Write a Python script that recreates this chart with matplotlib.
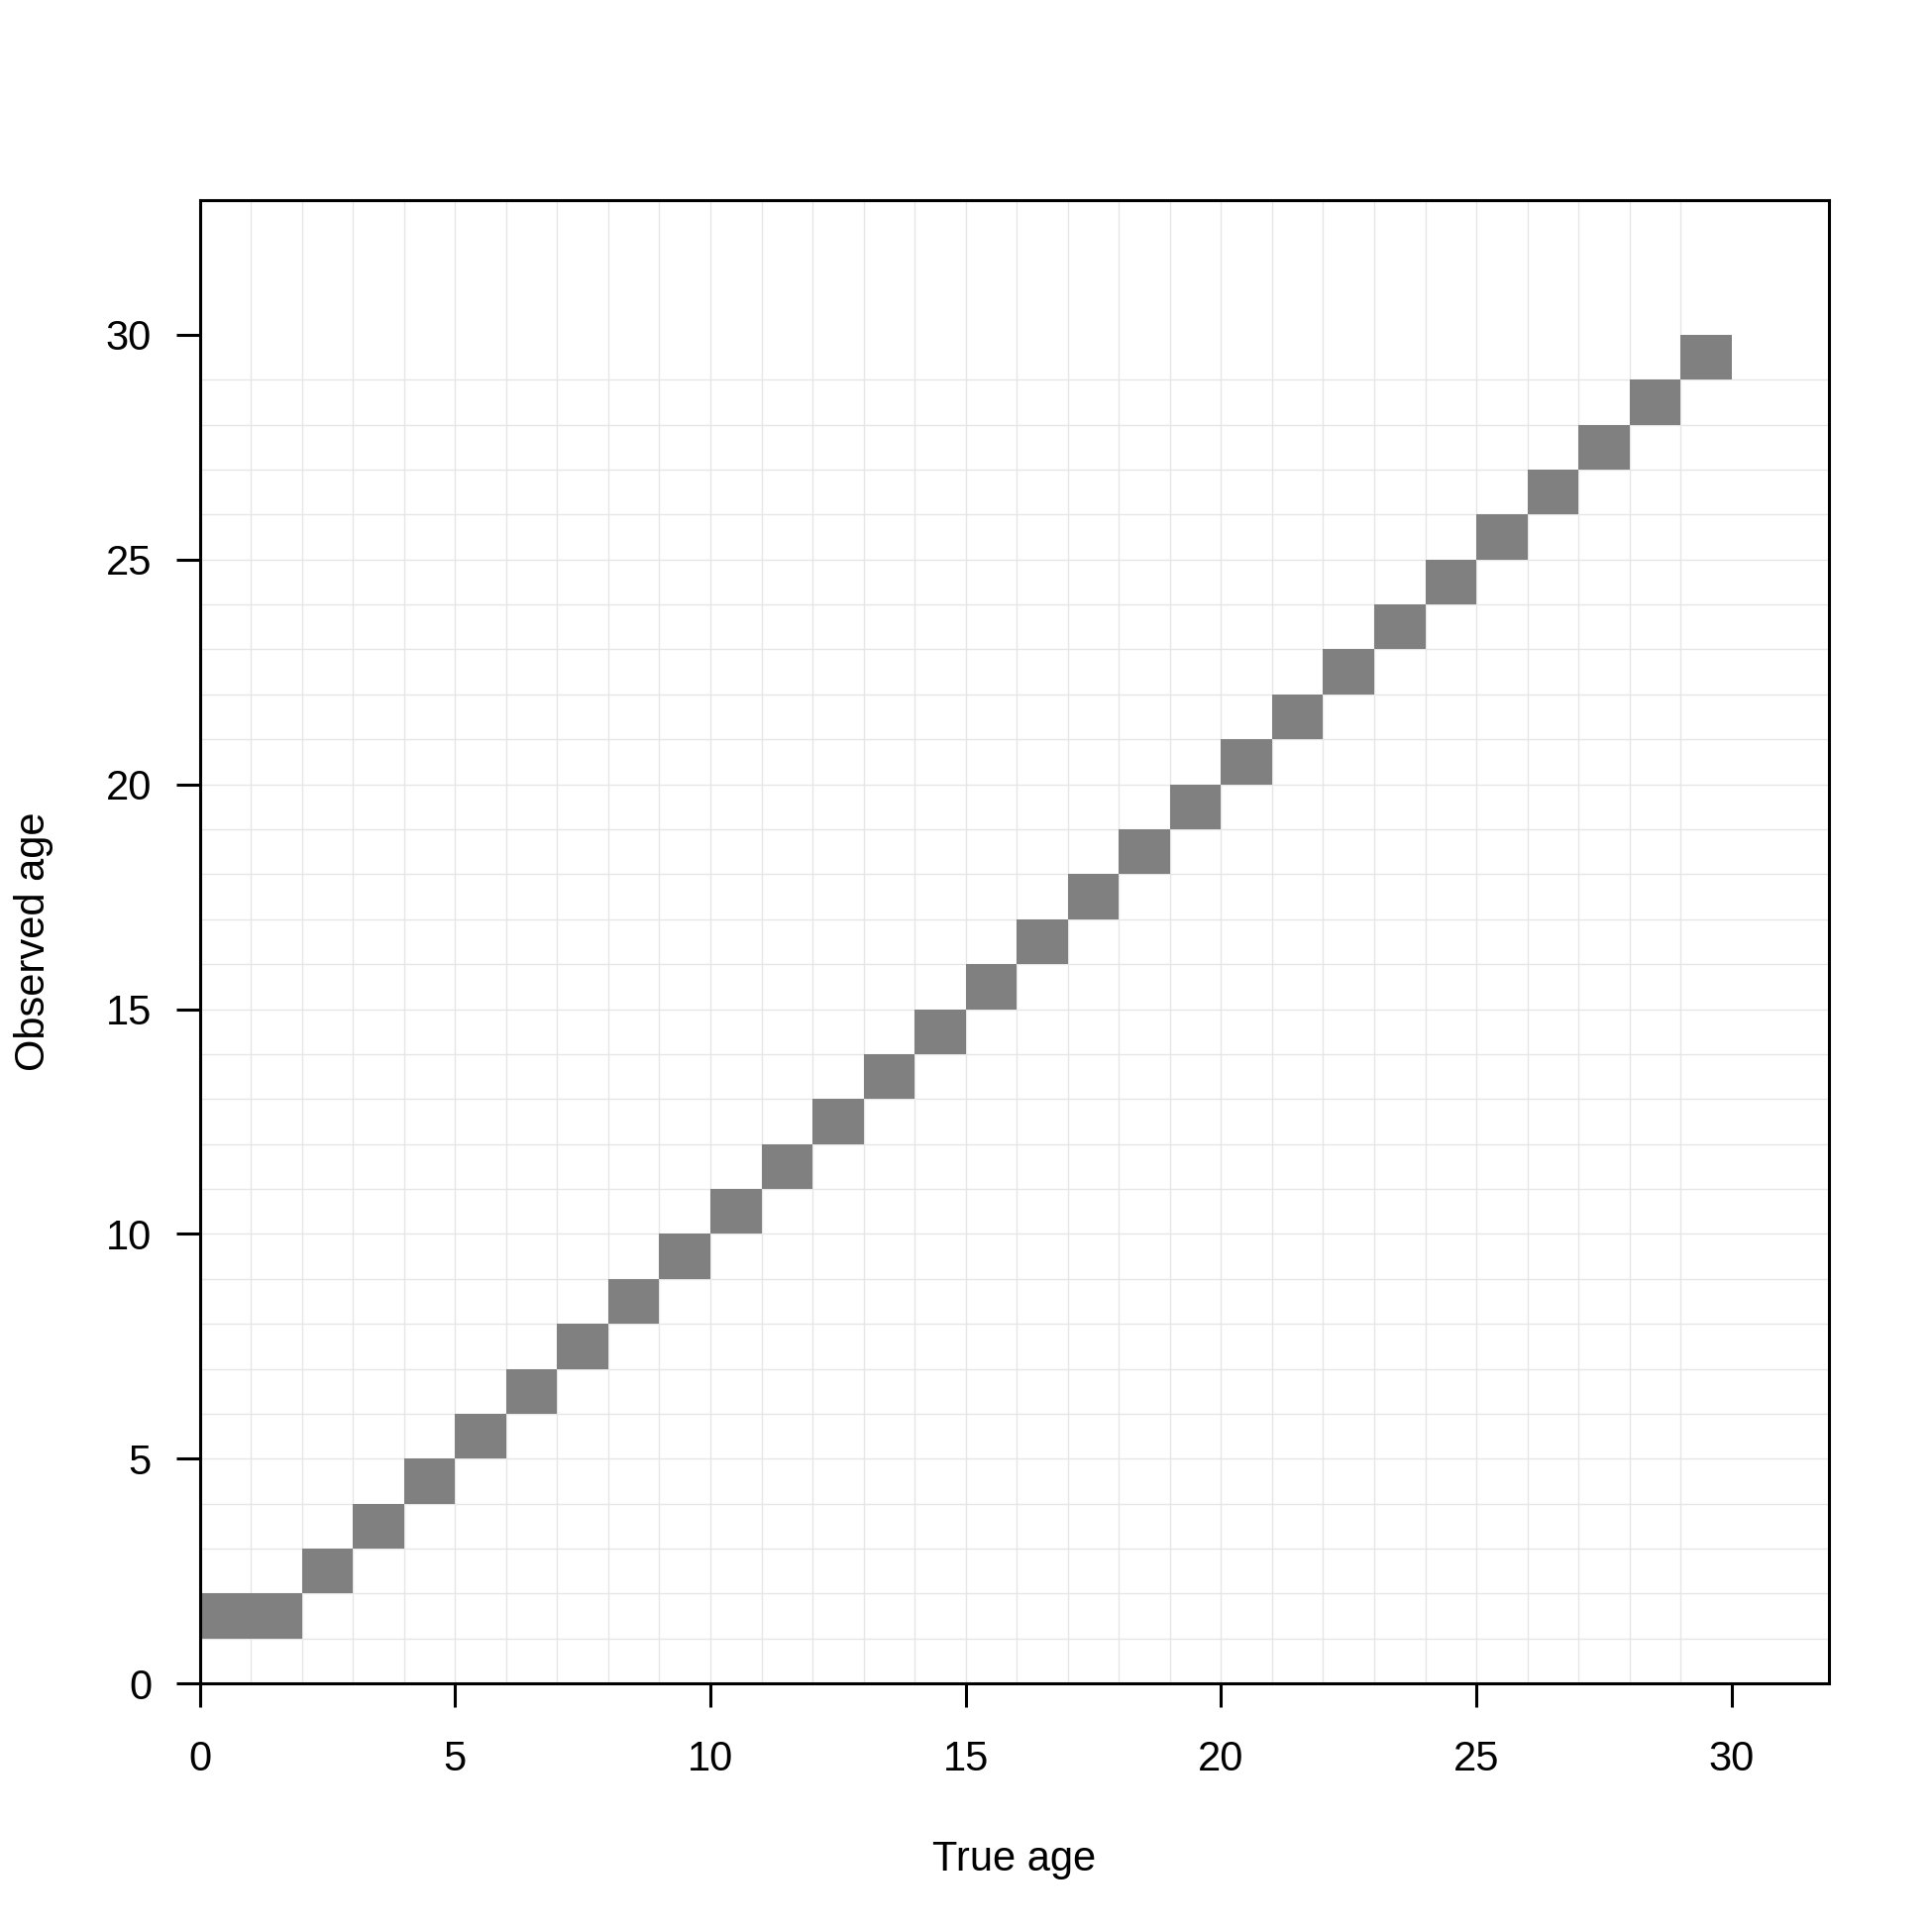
import matplotlib
matplotlib.use("Agg")
import matplotlib.pyplot as plt
import numpy as np

true_age = np.arange(0, 30)
observed_age = np.array([1, 1, 2, 3, 4, 5, 6, 7, 8, 9, 10, 11, 12, 13, 14,
                         15, 16, 17, 18, 19, 20, 21, 22, 23, 24, 25, 26, 27, 28, 29])
grid_pos = np.arange(1, 30)
ticks = [0, 5, 10, 15, 20, 25, 30]

plt.rcParams["font.family"] = ["Liberation Sans", "DejaVu Sans"]


def main():
    fig = plt.figure(figsize=(19.5, 19.5), dpi=100)
    ax = fig.add_axes([0.1034, 0.1286, 0.8431, 0.7680])

    ax.set_xlim(0, 31.9)
    ax.set_ylim(0, 33)

    # light cell grid
    ax.vlines(grid_pos, 0, 1, transform=ax.get_xaxis_transform(),
              color="#e6e6e6", lw=1.0, zorder=1)
    ax.hlines(grid_pos, 0, 1, transform=ax.get_yaxis_transform(),
              color="#e6e6e6", lw=1.0, zorder=1)

    ax.bar(true_age, 1, bottom=observed_age, width=1, align="edge",
           color="#808080", edgecolor="none", zorder=2)

    ax.set_xticks(ticks)
    ax.set_yticks(ticks)
    ax.tick_params(axis="both", direction="out", length=17, width=2.2,
                   labelsize=30, pad=18, colors="black")
    ax.tick_params(axis="x", pad=24)
    for s in ax.spines.values():
        s.set_linewidth(2.2)
        s.set_zorder(5)

    ax.set_xlabel("True age", fontsize=30, labelpad=44)
    ax.set_ylabel("Observed age", fontsize=30, labelpad=38)

    fig.savefig("out.png", dpi=100)


if __name__ == "__main__":
    main()
